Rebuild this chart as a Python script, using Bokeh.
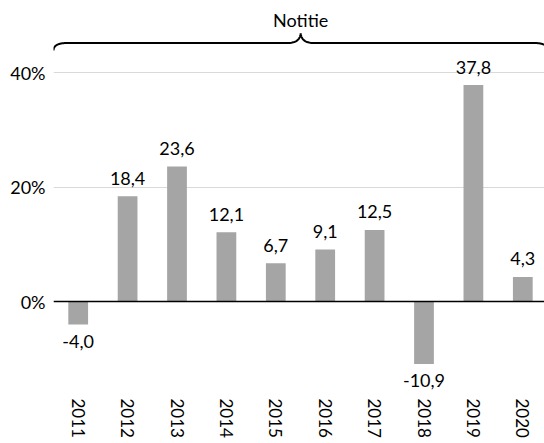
import numpy as np
from bokeh.plotting import figure
from bokeh.models import ColumnDataSource, FixedTicker, Span, Range1d
from bokeh.core.properties import value
from bokeh.embed import file_html
from bokeh.resources import INLINE

# ---- data ----
years = ["2011", "2012", "2013", "2014", "2015", "2016", "2017", "2018", "2019", "2020"]
growth = [-4.0, 18.4, 23.6, 12.1, 6.7, 9.1, 12.5, -10.9, 37.8, 4.3]
y_ticks = [0, 20, 40]
y_tick_labels = ["0%", "20%", "40%"]
note_text = "Notitie"

# ---- layout / style ----
FONT = "Lato"
BORDER_L, BORDER_B = 53, 44
PX_PER_CAT = 49.4
PX_PER_PCT = 5.725
FRAME_W = 491
FRAME_H = 392
ZERO_FROM_TOP = 301

x_start = -0.5
x_end = x_start + FRAME_W / PX_PER_CAT
y_end = ZERO_FROM_TOP / PX_PER_PCT
y_start = -(FRAME_H - ZERO_FROM_TOP) / PX_PER_PCT

xs = list(range(len(years)))
labels = [f"{v:.1f}".replace(".", ",") for v in growth]
yoff = [-18 if v >= 0 else 17 for v in growth]

src = ColumnDataSource(dict(x=xs, v=growth, lab=labels, yoff=yoff))

p = figure(frame_width=FRAME_W, frame_height=FRAME_H, output_backend="svg",
           toolbar_location=None,
           x_range=Range1d(x_start, x_end), y_range=Range1d(y_start, y_end),
           min_border_left=BORDER_L, min_border_right=0, min_border_top=0,
           min_border_bottom=BORDER_B, outline_line_color=None,
           background_fill_color="white", border_fill_color="white")
p.title.visible = False

# gridlines
p.xgrid.visible = False
p.ygrid.ticker = FixedTicker(ticks=y_ticks)
p.ygrid.grid_line_color = "#d9d9d9"
p.ygrid.grid_line_width = 1

# bars
p.vbar(x="x", top="v", bottom=0, width=0.4, fill_color="#a5a5a5",
       line_color=None, source=src)

# zero line
p.add_layout(Span(location=0, dimension="width", line_color="black", line_width=1.5))

# value labels
p.text(x="x", y="v", text="lab", y_offset="yoff", text_align="center",
       text_baseline="alphabetic", text_font=value(FONT), text_font_size="18px",
       text_color="black", source=src)

# axes
p.yaxis.ticker = FixedTicker(ticks=y_ticks)
p.yaxis.major_label_overrides = {t: l for t, l in zip(y_ticks, y_tick_labels)}
p.yaxis.axis_line_color = None
p.yaxis.major_tick_line_color = None
p.yaxis.minor_tick_line_color = None
p.yaxis.major_tick_out = 0
p.yaxis.major_tick_in = 0
p.yaxis.minor_tick_out = 0
p.yaxis.major_label_standoff = 8
p.yaxis.major_label_text_font = FONT
p.yaxis.major_label_text_font_size = "18px"
p.yaxis.major_label_text_color = "black"

p.xaxis.ticker = FixedTicker(ticks=xs)
p.xaxis.major_label_overrides = {i: y for i, y in zip(xs, years)}
p.xaxis.major_label_orientation = "vertical"
p.xaxis.axis_line_color = None
p.xaxis.major_tick_line_color = None
p.xaxis.minor_tick_line_color = None
p.xaxis.major_tick_out = 0
p.xaxis.major_tick_in = 0
p.xaxis.minor_tick_out = 0
p.xaxis.major_label_standoff = 6
p.xaxis.major_label_text_font = FONT
p.xaxis.major_label_text_font_size = "17px"
p.xaxis.major_label_text_color = "black"

# ---- brace annotation (built in pixels, converted to data units) ----
def dx(px):
    return px / PX_PER_CAT

def ylev(px_from_top):
    return (ZERO_FROM_TOP - px_from_top) / PX_PER_PCT

xl, xr = x_start, x_start + dx(494.4)
xc = (xl + xr) / 2
y_flat, y_tip, y_cusp = ylev(42.5), ylev(50), ylev(33)

def quad(p0, c, p1, n=20):
    t = np.linspace(0, 1, n)
    bx = (1 - t) ** 2 * p0[0] + 2 * (1 - t) * t * c[0] + t ** 2 * p1[0]
    by = (1 - t) ** 2 * p0[1] + 2 * (1 - t) * t * c[1] + t ** 2 * p1[1]
    return list(bx), list(by)

bxs, bys = [], []
for seg in [
    quad((xl, y_tip), (xl, y_flat), (xl + dx(14), y_flat)),
    ([xl + dx(14), xc - dx(13)], [y_flat, y_flat]),
    quad((xc - dx(13), y_flat), (xc - dx(1), y_flat), (xc, y_cusp)),
    quad((xc, y_cusp), (xc + dx(1), y_flat), (xc + dx(13), y_flat)),
    ([xc + dx(13), xr - dx(14)], [y_flat, y_flat]),
    quad((xr - dx(14), y_flat), (xr, y_flat), (xr, y_tip)),
]:
    bxs += seg[0]
    bys += seg[1]
p.line(bxs, bys, line_color="black", line_width=2)

p.text(x=[xc], y=[ylev(19)], text=[note_text], text_align="center",
       text_baseline="alphabetic", text_font=value(FONT), text_font_size="18px",
       text_color="black")

open("out.html", "w").write(file_html(p, INLINE))
